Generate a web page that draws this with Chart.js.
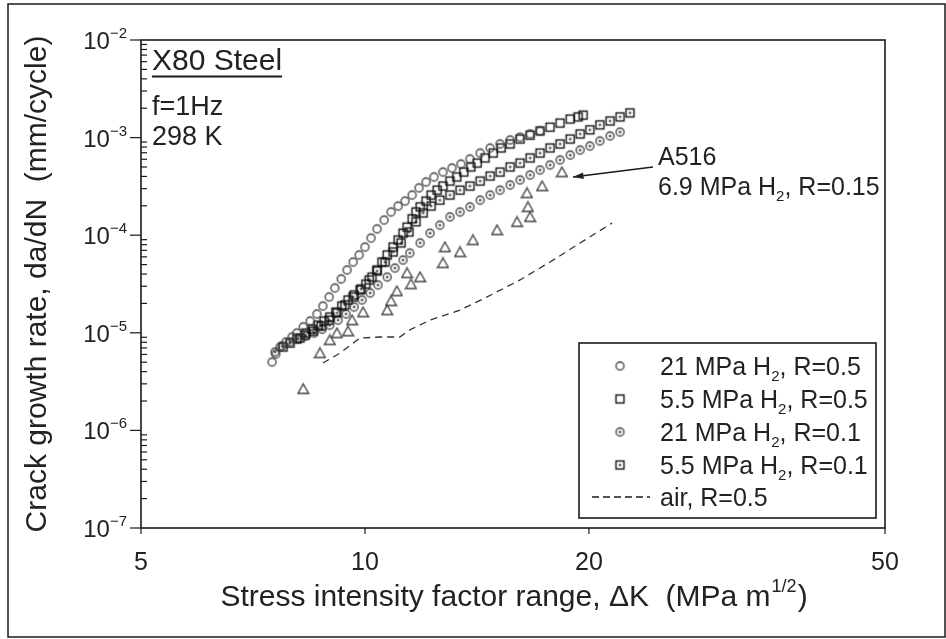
<!DOCTYPE html>
<html>
<head>
<meta charset="utf-8">
<script src="https://cdn.jsdelivr.net/npm/chart.js@4.4.0/dist/chart.umd.min.js"></script>
<style>
  html, body { margin: 0; padding: 0; background: #fff; }
</style>
</head>
<body>
<canvas id="chart" width="946" height="639"></canvas>
<script>
// dK (MPa m^1/2) and da/dN (mm/cycle)
const circK = [7.50,7.59,7.69,7.83,7.98,8.10,8.26,8.44,8.62,8.78,8.95,9.11,9.29,9.46,9.64,9.82,10.00,10.19,10.38,10.61,10.84,11.08,11.32,11.57,11.82,12.08,12.38,12.73,13.09,13.46,13.84,14.28,14.73,15.19,15.67,16.16,16.67,17.19];
const circRate = [5.02e-6,6.06e-6,7.15e-6,8.05e-6,9.06e-6,9.95e-6,1.15e-5,1.32e-5,1.56e-5,1.88e-5,2.33e-5,2.88e-5,3.56e-5,4.40e-5,5.31e-5,6.27e-5,7.57e-5,9.36e-5,1.16e-4,1.43e-4,1.73e-4,1.99e-4,2.24e-4,2.58e-4,3.05e-4,3.51e-4,3.95e-4,4.44e-4,4.88e-4,5.36e-4,6.04e-4,6.95e-4,7.82e-4,8.60e-4,9.45e-4,1.01e-3,1.09e-3,1.17e-3];

const sqK = [8.18,8.33,8.49,8.65,8.81,8.97,9.14,9.31,9.49,9.67,9.85,10.03,10.22,10.38,10.54,10.71,10.91,11.08,11.25,11.39,11.57,11.71,11.86,12.08,12.27,12.50,12.73,13.01,13.29,13.58,13.88,14.15,14.50,14.87,15.24,15.67,16.16,16.67,17.19,17.73,18.29,18.87,19.34,19.64];
const sqRate = [8.85e-6,9.95e-6,1.09e-5,1.20e-5,1.32e-5,1.45e-5,1.63e-5,1.88e-5,2.17e-5,2.44e-5,2.75e-5,3.16e-5,3.73e-5,4.40e-5,5.31e-5,6.27e-5,7.57e-5,8.93e-5,1.05e-4,1.21e-4,1.47e-4,1.73e-4,1.95e-4,2.24e-4,2.58e-4,2.90e-4,3.19e-4,3.59e-4,3.95e-4,4.44e-4,5.00e-4,5.49e-4,6.18e-4,6.95e-4,7.83e-4,8.60e-4,9.67e-4,1.06e-3,1.17e-3,1.28e-3,1.41e-3,1.55e-3,1.63e-3,1.70e-3];

const circDotK = [7.57,7.74,7.93,8.13,8.33,8.54,8.76,8.97,9.20,9.43,9.67,9.91,10.16,10.41,10.71,10.97,11.25,11.49,11.86,12.23,12.61,13.01,13.42,13.84,14.28,14.73,15.19,15.67,16.16,16.67,17.19,17.73,18.29,18.87,19.46,20.06,20.69,21.35,22.02];
const circDotRate = [6.36e-6,7.33e-6,8.05e-6,8.64e-6,9.27e-6,9.95e-6,1.09e-5,1.20e-5,1.35e-5,1.56e-5,1.84e-5,2.17e-5,2.56e-5,3.09e-5,3.73e-5,4.61e-5,5.57e-5,6.57e-5,8.32e-5,1.05e-4,1.27e-4,1.54e-4,1.73e-4,1.95e-4,2.29e-4,2.58e-4,2.90e-4,3.27e-4,3.68e-4,4.14e-4,4.66e-4,5.24e-4,5.90e-4,6.63e-4,7.46e-4,8.20e-4,9.23e-4,1.04e-3,1.14e-3];

const sqDotK = [7.76,7.93,8.10,8.31,8.52,8.73,8.95,9.17,9.40,9.64,9.88,10.13,10.38,10.64,10.91,11.18,11.46,11.71,11.97,12.27,12.61,13.01,13.42,13.84,14.28,14.73,15.19,15.67,16.16,16.67,17.19,17.73,18.29,18.87,19.46,20.06,20.69,21.35,22.02,22.71];
const sqDotRate = [7.15e-6,7.86e-6,8.64e-6,9.49e-6,1.04e-5,1.17e-5,1.35e-5,1.60e-5,1.93e-5,2.33e-5,2.81e-5,3.48e-5,4.30e-5,5.31e-5,6.73e-5,8.32e-5,1.08e-4,1.37e-4,1.69e-4,1.99e-4,2.29e-4,2.58e-4,2.90e-4,3.19e-4,3.59e-4,4.04e-4,4.44e-4,5.00e-4,5.49e-4,6.18e-4,6.95e-4,7.83e-4,8.60e-4,9.67e-4,1.09e-3,1.20e-3,1.35e-3,1.48e-3,1.63e-3,1.79e-3];

const a516K = [8.26,8.70,8.97,9.17,9.49,9.61,9.94,10.71,10.84,11.04,11.39,11.53,11.86,12.73,12.81,13.42,13.97,15.05,16.01,16.67,16.56,16.51,17.30,18.40];
const a516Rate = [2.66e-6,6.21e-6,8.44e-6,9.95e-6,1.04e-5,1.35e-5,1.63e-5,1.71e-5,2.12e-5,2.68e-5,4.10e-5,3.16e-5,3.73e-5,5.19e-5,7.57e-5,6.73e-5,8.93e-5,1.13e-4,1.37e-4,1.54e-4,1.95e-4,2.71e-4,3.19e-4,4.44e-4];

const airK = [8.78,9.26,9.85,10.48,11.14,11.49,12.23,13.42,14.59,16.16,17.73,19.46,21.48];
const airRate = [4.90e-6,6.21e-6,8.85e-6,9.06e-6,9.06e-6,1.07e-5,1.35e-5,1.71e-5,2.33e-5,3.48e-5,5.31e-5,8.32e-5,1.33e-4];

const seriesLabels = ['21 MPa H_2, R=0.5', '5.5 MPa H_2, R=0.5', '21 MPa H_2, R=0.1', '5.5 MPa H_2, R=0.1', 'air, R=0.5'];
const xTicks = [5, 10, 20, 50];
const yExps = [-2, -3, -4, -5, -6, -7];

const FONT = "'Liberation Sans', Arial, sans-serif";
const INK = '#222';

// marker images
function marker(kind) {
    const c = document.createElement('canvas');
    c.width = 13; c.height = 13;
    const g = c.getContext('2d');
    g.lineWidth = 1.3;
    if (kind === 'circle' || kind === 'circleDot') {
        g.strokeStyle = '#3c3c3c';
        g.beginPath(); g.arc(6.5, 6.5, 4, 0, Math.PI * 2); g.stroke();
        if (kind === 'circleDot') {
            g.fillStyle = '#3c3c3c';
            g.beginPath(); g.arc(6.5, 6.5, 1.3, 0, Math.PI * 2); g.fill();
        }
    } else if (kind === 'square' || kind === 'squareDot') {
        g.strokeStyle = '#111';
        g.lineWidth = 1.4;
        g.strokeRect(2.5, 2.5, 8, 8);
        if (kind === 'squareDot') {
            g.fillStyle = '#111';
            g.fillRect(5.5, 5.5, 2, 2);
        }
    } else if (kind === 'triangle') {
        g.strokeStyle = '#444';
        g.lineWidth = 1.4;
        g.beginPath(); g.moveTo(6.5, 1.5); g.lineTo(11.8, 11); g.lineTo(1.2, 11); g.closePath(); g.stroke();
    }
    return c;
}
const markers = {
    circle: marker('circle'), square: marker('square'),
    circleDot: marker('circleDot'), squareDot: marker('squareDot'),
    triangle: marker('triangle')
};

const pts = (xs, ys) => xs.map((v, i) => ({ x: v, y: ys[i] }));

// text with _2 subscript
function richText(ctx, text, x, y, size) {
    const parts = text.split('_2');
    ctx.textAlign = 'left';
    ctx.textBaseline = 'alphabetic';
    let cx = x;
    parts.forEach((p, i) => {
        ctx.font = size + 'px ' + FONT;
        ctx.fillText(p, cx, y);
        cx += ctx.measureText(p).width;
        if (i < parts.length - 1) {
            ctx.font = Math.round(size * 0.6) + 'px ' + FONT;
            ctx.fillText('2', cx, y + size * 0.22);
            cx += ctx.measureText('2').width;
        }
    });
}

function seg(ctx, x1, y1, x2, y2) {
    ctx.beginPath(); ctx.moveTo(x1, y1); ctx.lineTo(x2, y2); ctx.stroke();
}

const decor = {
    id: 'decor',
    afterDraw(chart) {
        const { ctx, chartArea: a, scales: { x, y } } = chart;
        ctx.save();
        ctx.strokeStyle = '#1a1a1a';
        ctx.fillStyle = INK;

        // outer frame
        ctx.lineWidth = 1.5;
        ctx.strokeRect(8, 4, 937, 633);

        // plot box
        ctx.lineWidth = 1.6;
        ctx.strokeRect(a.left, a.top, a.right - a.left, a.bottom - a.top);

        // y ticks, minor ticks and labels
        ctx.lineWidth = 1.2;
        yExps.forEach(e => {
            const py = y.getPixelForValue(Math.pow(10, e));
            seg(ctx, a.left - 11, py, a.left, py);
            if (e < -2) {
                for (let m = 2; m <= 9; m++) {
                    const my = y.getPixelForValue(m * Math.pow(10, e));
                    seg(ctx, a.left, my, a.left + 6, my);
                }
            }
            ctx.textBaseline = 'alphabetic';
            ctx.textAlign = 'right';
            ctx.font = '15px ' + FONT;
            const sup = String(e).replace('-', '\u2212');
            const supW = ctx.measureText(sup).width;
            ctx.fillText(sup, 127, py - 2);
            ctx.font = '24px ' + FONT;
            ctx.fillText('10', 127 - supW, py + 9);
        });

        // x ticks
        xTicks.forEach(v => {
            const px = x.getPixelForValue(v);
            seg(ctx, px, a.bottom, px, a.bottom + 6);
        });

        // x title with superscript
        const t1 = 'Stress intensity factor range, \u0394K  (MPa m';
        ctx.textAlign = 'left';
        ctx.font = '30px ' + FONT;
        const w1 = ctx.measureText(t1).width;
        ctx.font = '18px ' + FONT;
        const w2 = ctx.measureText('1/2').width;
        ctx.font = '30px ' + FONT;
        const w3 = ctx.measureText(')').width;
        let tx = 513 - (w1 + w2 + w3) / 2;
        ctx.fillText(t1, tx, 606);
        ctx.font = '18px ' + FONT;
        ctx.fillText('1/2', tx + w1 + 1, 592);
        ctx.font = '30px ' + FONT;
        ctx.fillText(')', tx + w1 + w2 + 2, 606);

        // top-left notes
        ctx.font = '30px ' + FONT;
        ctx.fillText('X80 Steel', 152, 70);
        const ws = ctx.measureText('X80 Steel').width;
        ctx.lineWidth = 2;
        seg(ctx, 152, 76.5, 152 + ws, 76.5);
        ctx.font = '27px ' + FONT;
        ctx.fillText('f=1Hz', 152, 115);
        ctx.fillText('298 K', 152, 145);

        // A516 annotation and arrow
        richText(ctx, 'A516', 658, 165, 25);
        richText(ctx, '6.9 MPa H_2, R=0.15', 658, 195, 25);
        const last = a516K.length - 1;
        const tipX = x.getPixelForValue(a516K[last]) + 11;
        const tipY = y.getPixelForValue(a516Rate[last]) + 5;
        const sx = 653, sy = 167;
        ctx.lineWidth = 1.3;
        seg(ctx, sx, sy, tipX, tipY);
        const ang = Math.atan2(tipY - sy, tipX - sx);
        ctx.beginPath();
        ctx.moveTo(tipX, tipY);
        ctx.lineTo(tipX - 11 * Math.cos(ang - 0.3), tipY - 11 * Math.sin(ang - 0.3));
        ctx.lineTo(tipX - 11 * Math.cos(ang + 0.3), tipY - 11 * Math.sin(ang + 0.3));
        ctx.closePath();
        ctx.fill();

        // legend
        const lx = 579, ly = 343, lw = 297, lh = 175;
        ctx.fillStyle = '#fff';
        ctx.fillRect(lx, ly, lw, lh);
        ctx.lineWidth = 1.6;
        ctx.strokeRect(lx, ly, lw, lh);
        ctx.fillStyle = INK;
        const rows = [366, 399, 432, 465, 497];
        const keys = ['circle', 'square', 'circleDot', 'squareDot', null];
        rows.forEach((ry, i) => {
            if (keys[i]) {
                ctx.drawImage(markers[keys[i]], 620 - 6.5, ry - 6.5);
            } else {
                ctx.lineWidth = 1.3;
                ctx.setLineDash([7, 4]);
                seg(ctx, 592, ry, 650, ry);
                ctx.setLineDash([]);
            }
            richText(ctx, seriesLabels[i], 660, ry + 9, 25);
        });
        ctx.restore();
    }
};

new Chart(document.getElementById('chart').getContext('2d'), {
    type: 'scatter',
    data: {
        datasets: [
            { label: seriesLabels[0], data: pts(circK, circRate), pointStyle: markers.circle, pointRadius: 4 },
            { label: seriesLabels[1], data: pts(sqK, sqRate), pointStyle: markers.square, pointRadius: 4 },
            { label: seriesLabels[2], data: pts(circDotK, circDotRate), pointStyle: markers.circleDot, pointRadius: 4 },
            { label: seriesLabels[3], data: pts(sqDotK, sqDotRate), pointStyle: markers.squareDot, pointRadius: 4 },
            { label: 'A516', data: pts(a516K, a516Rate), pointStyle: markers.triangle, pointRadius: 5 },
            {
                label: seriesLabels[4], data: pts(airK, airRate), showLine: true, pointRadius: 0,
                borderColor: '#333', borderWidth: 1.3, borderDash: [7, 5], fill: false
            }
        ]
    },
    options: {
        responsive: false,
        animation: false,
        layout: { padding: { left: 0, top: 40, right: 61, bottom: 0 } },
        plugins: { legend: { display: false }, tooltip: { enabled: false } },
        scales: {
            x: {
                type: 'logarithmic', min: 5, max: 50,
                afterBuildTicks: s => { s.ticks = xTicks.map(v => ({ value: v })); },
                afterFit: s => { s.height = 111; },
                grid: { display: false, drawTicks: true, tickLength: 8 },
                border: { display: false },
                ticks: {
                    autoSkip: false, maxRotation: 0, padding: 12, color: INK,
                    font: { family: FONT, size: 25 },
                    callback: v => String(v)
                }
            },
            y: {
                type: 'logarithmic', min: 1e-7, max: 1e-2,
                afterFit: s => { s.width = 141; },
                grid: { display: false },
                border: { display: false },
                ticks: { display: false },
                title: {
                    display: true, text: 'Crack growth rate, da/dN  (mm/cycle)',
                    color: INK, font: { family: FONT, size: 30 },
                    padding: { top: 20, bottom: 0 }
                }
            }
        }
    },
    plugins: [decor]
});
</script>
</body>
</html>
